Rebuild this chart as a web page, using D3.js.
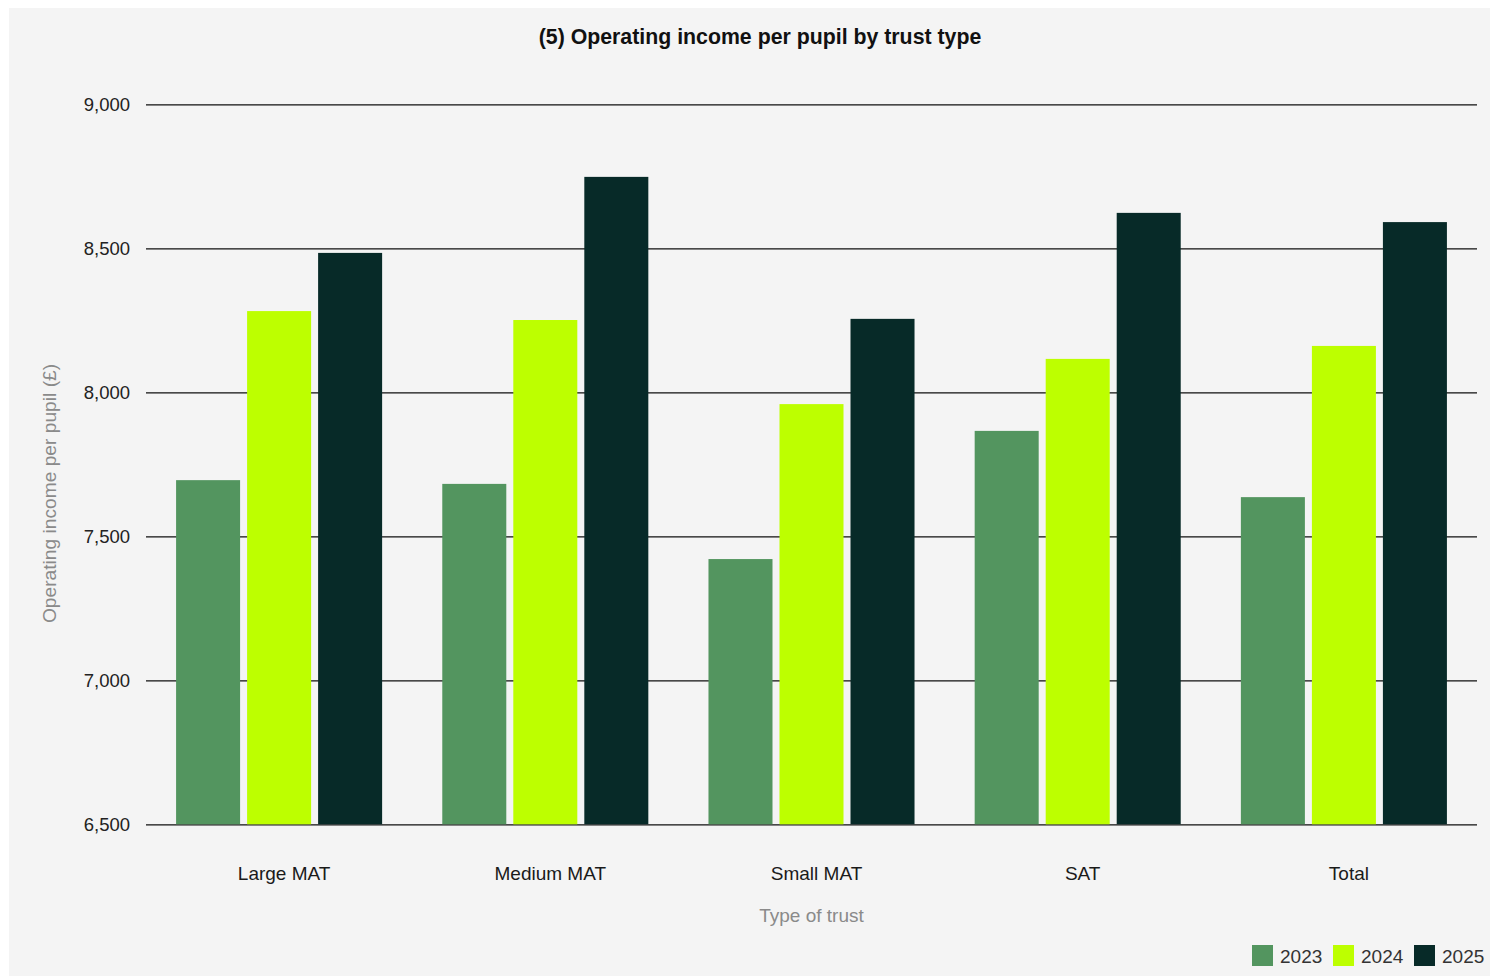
<!DOCTYPE html>
<html>
<head>
<meta charset="utf-8">
<script src="https://cdn.jsdelivr.net/npm/d3@7"></script>
<style>
  html, body { margin: 0; padding: 0; background: #ffffff; }
  svg { display: block; font-family: "Liberation Sans", Arial, Helvetica, sans-serif; }
</style>
</head>
<body>
<svg id="chart" width="1490" height="976"></svg>
<script>
// Operating income per pupil (£) by trust type, 2023–2025
const categories = ["Large MAT", "Medium MAT", "Small MAT", "SAT", "Total"];
const years = ["2023", "2024", "2025"];
const values2023 = [7695, 7682, 7421, 7866, 7636];
const values2024 = [8282, 8251, 7959, 8116, 8161];
const values2025 = [8484, 8748, 8255, 8623, 8591];
const yTicks = [6500, 7000, 7500, 8000, 8500, 9000];
const seriesColors = ["#53955f", "#bdff00", "#072a28"];

const seriesValues = [values2023, values2024, values2025];
const rows = categories.map((c, i) => ({
  category: c,
  bars: years.map((y, j) => ({ year: y, value: seriesValues[j][i] }))
}));

const svg = d3.select("#chart");
const W = 1490, H = 976;

// panel background
svg.append("rect")
  .attr("x", 9).attr("y", 8)
  .attr("width", W - 9).attr("height", H - 8)
  .attr("fill", "#f4f4f4");

const plot = { left: 146, right: 1477, top: 104.3, bottom: 824.3 };

const y = d3.scaleLinear()
  .domain([6500, 9000])
  .range([plot.bottom, plot.top]);

const x0 = d3.scaleBand()
  .domain(categories)
  .range([plot.left, plot.right])
  .paddingInner(0.226)
  .paddingOuter(0.113);

const x1 = d3.scaleBand()
  .domain(years)
  .range([0, x0.bandwidth()])
  .paddingInner(0.0986)
  .paddingOuter(0);

const color = d3.scaleOrdinal().domain(years).range(seriesColors);

// horizontal gridlines with tick labels
const yAxis = d3.axisLeft(y)
  .tickValues(yTicks)
  .tickFormat(d3.format(","))
  .tickSize(-(plot.right - plot.left))
  .tickPadding(16);

const yg = svg.append("g")
  .attr("transform", `translate(${plot.left},0)`)
  .call(yAxis);
yg.select(".domain").remove();
yg.selectAll(".tick line")
  .attr("stroke", "#111")
  .attr("stroke-width", 1.3);
yg.selectAll(".tick text")
  .attr("fill", "#222")
  .attr("font-size", 18.5);

// bars
const groups = svg.append("g").selectAll("g")
  .data(rows)
  .join("g")
  .attr("transform", d => `translate(${x0(d.category)},0)`);

groups.selectAll("rect")
  .data(d => d.bars)
  .join("rect")
  .attr("x", d => x1(d.year))
  .attr("y", d => y(d.value))
  .attr("width", x1.bandwidth())
  .attr("height", d => y(6500) - y(d.value))
  .attr("fill", d => color(d.year));

// category labels
const xAxis = d3.axisBottom(x0).tickSize(0).tickPadding(42);
const xg = svg.append("g")
  .attr("transform", `translate(5,${plot.bottom})`)
  .call(xAxis);
xg.select(".domain").remove();
xg.selectAll(".tick text")
  .attr("fill", "#1a1a1a")
  .attr("font-size", 19);

// title
svg.append("text")
  .attr("x", 760).attr("y", 44)
  .attr("text-anchor", "middle")
  .attr("font-size", 21.3)
  .attr("font-weight", "bold")
  .attr("fill", "#111")
  .text("(5) Operating income per pupil by trust type");

// axis titles
svg.append("text")
  .attr("x", (plot.left + plot.right) / 2).attr("y", 922)
  .attr("text-anchor", "middle")
  .attr("font-size", 19)
  .attr("fill", "#8a8a8a")
  .text("Type of trust");

svg.append("text")
  .attr("transform", "translate(55.5,493.5) rotate(-90)")
  .attr("text-anchor", "middle")
  .attr("font-size", 19.2)
  .attr("fill", "#8a8a8a")
  .text("Operating income per pupil (£)");

// legend
const legendX = [1252, 1333, 1414];
const legend = svg.append("g").selectAll("g")
  .data(years)
  .join("g")
  .attr("transform", (d, i) => `translate(${legendX[i]},945)`);
legend.append("rect")
  .attr("width", 21).attr("height", 21)
  .attr("fill", d => color(d));
legend.append("text")
  .attr("x", 28).attr("y", 17.5)
  .attr("font-size", 19)
  .attr("fill", "#333")
  .text(d => d);
</script>
</body>
</html>
